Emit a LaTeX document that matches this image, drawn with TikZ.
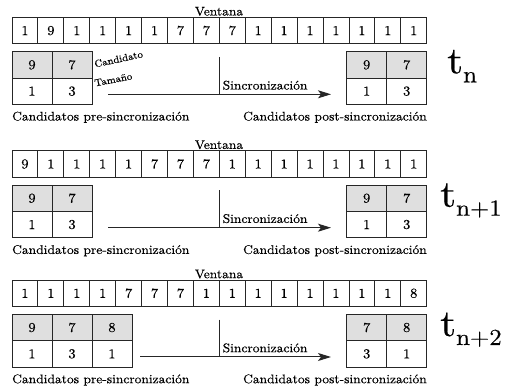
\documentclass[tikz,border=0pt]{standalone}
\usepackage{fontspec}
\setmainfont{lmroman10-regular.otf}[FakeStretch=1.08,FakeBold=0.35]
\usetikzlibrary{arrows.meta}
\newcommand\fsmain{\fontsize{12.5}{14}\selectfont}
\newcommand\fsdigit{\fontsize{13.5}{15}\selectfont}
\newcommand\fssmall{\fontsize{10}{11}\selectfont}
\newcommand\tlabel[1]{{\fontsize{38}{40}\selectfont t}{\fontsize{23}{25}\selectfont\raisebox{-9pt}{#1}}}
\tikzset{
  cell/.style={draw=black!85, line width=0.9pt, minimum width=25.92pt, minimum height=26.6pt,
    inner sep=0pt, outer sep=0pt, anchor=north west, font=\fsdigit},
  cand/.style={cell, minimum width=40pt, minimum height=26.3pt},
  candtop/.style={cand, fill=gray!25},
  lbl/.style={inner sep=0pt, font=\fsmain},
  syncarrow/.style={draw=black!85, line width=1pt, -{Stealth[length=13pt,width=8pt,inset=3pt]}},
  syncline/.style={draw=black!85, line width=1pt},
  tl/.style={inner sep=0pt, anchor=base west}
}
\begin{document}
\begin{tikzpicture}[x=1pt, y=-1pt]
\useasboundingbox (0,0) rectangle (507,387);

% ---------------- Row 1 (t_n) ----------------
\foreach \v [count=\i] in {1,9,1,1,1,1,7,7,7,1,1,1,1,1,1,1}
  \node[cell] (wa\i) at ({12+(\i-1)*25.92}, 17.3) {\v};
\node[lbl, anchor=base] (va) at (219, 15.5) {Ventana};
\node[candtop] (la1) at (12, 51.7) {9};
\node[candtop] (la2) at (52, 51.7) {7};
\node[cand] (la3) at (12, 78) {1};
\node[cand] (la4) at (52, 78) {3};
\node[inner sep=0pt, anchor=base west, rotate=12, font=\fssmall] (cda) at (95, 67.5) {Candidato};
\node[inner sep=0pt, anchor=base west, rotate=11, font=\fssmall] (tma) at (95, 86.5) {Tamaño};
\node[candtop] (ra1) at (346.7, 51.7) {9};
\node[candtop] (ra2) at (386.7, 51.7) {7};
\node[cand] (ra3) at (346.7, 78) {1};
\node[cand] (ra4) at (386.7, 78) {3};
\coordinate (as) at (108, 94.3);
\coordinate (ae) at (331, 94.3);
\coordinate (avt) at (219.3, 57);
\draw[syncarrow] (as) -- (ae);
\draw[syncline] (avt) -- (avt |- as);
\node[lbl, anchor=base west] (sa) at (222.5, 89.5) {Sincronización};
\node[lbl, anchor=base west] (pra) at (12, 120.5) {Candidatos pre-sincronización};
\node[lbl, anchor=base east] (poa) at (427, 120.5) {Candidatos post-sincronización};
\node[tl] (ta) at (447, 73.3) {\tlabel{n}};

% ---------------- Row 2 (t_{n+1}) ----------------
\foreach \v [count=\i] in {9,1,1,1,1,7,7,7,1,1,1,1,1,1,1,1}
  \node[cell] (wb\i) at ({12+(\i-1)*25.92}, 150.7) {\v};
\node[lbl, anchor=base] (vb) at (219, 148.9) {Ventana};
\node[candtop] (lb1) at (12, 185.1) {9};
\node[candtop] (lb2) at (52, 185.1) {7};
\node[cand] (lb3) at (12, 211.4) {1};
\node[cand] (lb4) at (52, 211.4) {3};
\node[candtop] (rb1) at (346.7, 185.1) {9};
\node[candtop] (rb2) at (386.7, 185.1) {7};
\node[cand] (rb3) at (346.7, 211.4) {1};
\node[cand] (rb4) at (386.7, 211.4) {3};
\coordinate (bs) at (108, 227.7);
\coordinate (be) at (331, 227.7);
\coordinate (bvt) at (219.3, 190.4);
\draw[syncarrow] (bs) -- (be);
\draw[syncline] (bvt) -- (bvt |- bs);
\node[lbl, anchor=base west] (sb) at (222.5, 222.9) {Sincronización};
\node[lbl, anchor=base west] (prb) at (12, 253.9) {Candidatos pre-sincronización};
\node[lbl, anchor=base east] (pob) at (427, 253.9) {Candidatos post-sincronización};
\node[tl] (tb) at (440, 206.7) {\tlabel{n+1}};

% ---------------- Row 3 (t_{n+2}) ----------------
\foreach \v [count=\i] in {1,1,1,1,7,7,7,1,1,1,1,1,1,1,1,8}
  \node[cell] (wc\i) at ({12+(\i-1)*25.92}, 280) {\v};
\node[lbl, anchor=base] (vc) at (219, 278.2) {Ventana};
\node[candtop] (lc1) at (12, 314.4) {9};
\node[candtop] (lc2) at (52, 314.4) {7};
\node[candtop] (lc3) at (92, 314.4) {8};
\node[cand] (lc4) at (12, 340.7) {1};
\node[cand] (lc5) at (52, 340.7) {3};
\node[cand] (lc6) at (92, 340.7) {1};
\node[candtop] (rc1) at (346.7, 314.4) {7};
\node[candtop] (rc2) at (386.7, 314.4) {8};
\node[cand] (rc3) at (346.7, 340.7) {3};
\node[cand] (rc4) at (386.7, 340.7) {1};
\coordinate (cs) at (140, 357);
\coordinate (ce) at (331, 357);
\coordinate (cvt) at (219.3, 319.7);
\draw[syncarrow] (cs) -- (ce);
\draw[syncline] (cvt) -- (cvt |- cs);
\node[lbl, anchor=base west] (sc) at (222.5, 352.2) {Sincronización};
\node[lbl, anchor=base west] (prc) at (12, 383.2) {Candidatos pre-sincronización};
\node[lbl, anchor=base east] (poc) at (427, 383.2) {Candidatos post-sincronización};
\node[tl] (tc) at (440, 336) {\tlabel{n+2}};
\end{tikzpicture}
\end{document}
